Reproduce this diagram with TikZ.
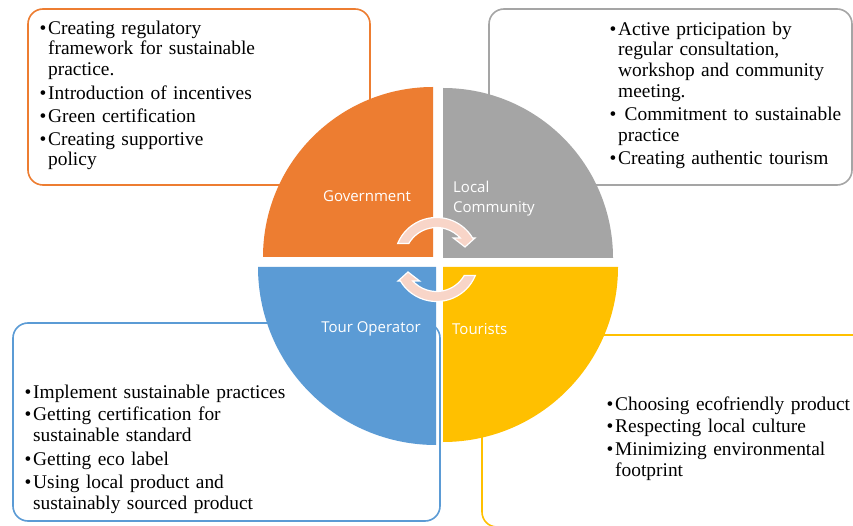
\documentclass[tikz,border=0pt]{standalone}
\usepackage{fontspec}
\setmainfont{Liberation Serif}
\newfontfamily\labfont{Open Sans}
\definecolor{cOrange}{HTML}{ED7D31}
\definecolor{cGray}{HTML}{A5A5A5}
\definecolor{cBlue}{HTML}{5B9BD5}
\definecolor{cYellow}{HTML}{FFC000}
\definecolor{cArrow}{HTML}{F8D5C8}
\newcommand{\bitem}[1]{\noindent\makebox[8.5pt][l]{\textbullet}\begin{tabular}[t]{@{}l@{}}#1\end{tabular}\par}
\tikzset{
  infobox/.style={draw, line width=1.6pt, rounded corners=15pt},
  txt/.style={anchor=north west, inner sep=0pt, text width=330pt,
    font=\fontsize{19.4}{20.8}\selectfont},
  lab/.style={text=white, inner sep=0pt, font=\labfont\fontsize{15}{20}\selectfont},
  cyc/.style={fill=cArrow, draw=white, line width=1.2pt, line join=miter}
}
\begin{document}
\begin{tikzpicture}[x=1pt,y=1pt]
\useasboundingbox (0,0) rectangle (853,525);
\fill[white] (0,0) rectangle (853,525);
% boxes
\draw[infobox, cOrange] (28,340) rectangle (370,516);
\draw[infobox, cGray] (489,340) rectangle (852,516);
\draw[infobox, cBlue] (13,4) rectangle (440,202);
\draw[infobox, cYellow] (482,-2) rectangle (870,190);
% quadrants
\fill[cOrange] (433,268) -- (263,268) arc[start angle=180, end angle=90, radius=170] -- cycle;
\fill[cGray] (443,267) -- (443,437) arc[start angle=90, end angle=0, radius=170] -- cycle;
\fill[cBlue] (436,258) -- (258,258) arc[start angle=180, end angle=270, radius=178] -- cycle;
\fill[cYellow] (443,258) -- (618,258) arc[start angle=0, end angle=-90, radius=175] -- cycle;
% labels
\node[lab] (gov) at (367,329) {Government};
\node[lab, anchor=west, align=left] (loc) at (453,326) {Local\\Community};
\node[lab] (tour) at (371,196) {Tour Operator};
\node[lab, anchor=west] (tou) at (452,196) {Tourists};
% circular arrows
\coordinate (O) at (436.5,265.5);
\draw[cyc] ([shift={(157.6:42)}]O) arc[start angle=157.6, end angle=30.8, radius=42]
  -- ++(2.4,0) -- ([shift={(28.5,12.5)}]O) -- ([shift={(16.8,21.5)}]O)
  -- ([shift={(42.2:32)}]O) arc[start angle=42.2, end angle=150, radius=32] -- cycle;
\begin{scope}[rotate around={180:(O)}]
\draw[cyc] ([shift={(157.6:42)}]O) arc[start angle=157.6, end angle=30.8, radius=42]
  -- ++(2.4,0) -- ([shift={(28.5,12.5)}]O) -- ([shift={(16.8,21.5)}]O)
  -- ([shift={(42.2:32)}]O) arc[start angle=42.2, end angle=150, radius=32] -- cycle;
\end{scope}
% texts
\node[txt] (tgov) at (39.5,505.7) {\setlength{\parskip}{2pt}%
\bitem{Creating regulatory\\framework for sustainable\\practice.}
\bitem{Introduction of incentives}
\bitem{Green certification}
\bitem{Creating supportive\\policy}};
\node[txt] (tloc) at (609.5,504.7) {\setlength{\parskip}{1.5pt}%
\bitem{Active prticipation by\\regular consultation,\\workshop and community\\meeting.}
\bitem{\ Commitment to sustainable\\practice}
\bitem{Creating authentic tourism}};
\node[txt] (ttour) at (24.5,141.7) {\setlength{\parskip}{2pt}%
\bitem{Implement sustainable practices}
\bitem{Getting certification for\\sustainable standard}
\bitem{Getting eco label}
\bitem{Using local product and\\sustainably sourced product}};
\node[txt] (ttou) at (606.5,129.7) {\setlength{\parskip}{2pt}%
\bitem{Choosing ecofriendly product}
\bitem{Respecting local culture}
\bitem{Minimizing environmental\\footprint}};
\end{tikzpicture}
\end{document}
